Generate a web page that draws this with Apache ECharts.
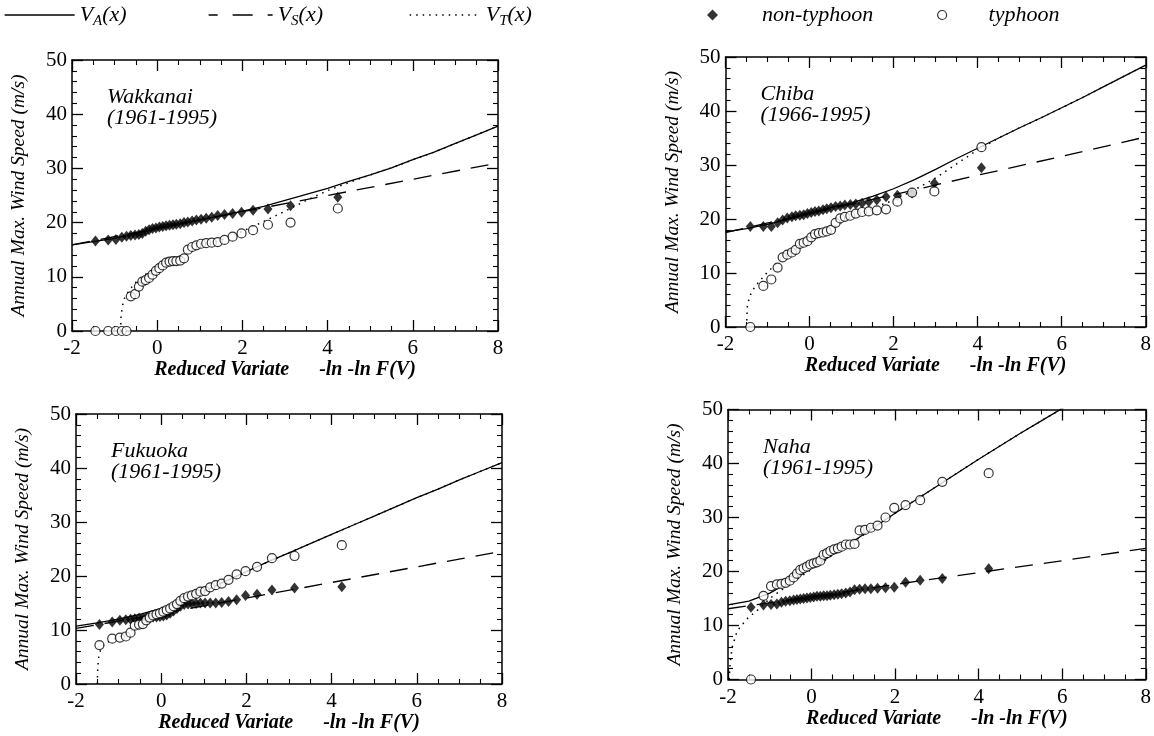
<!DOCTYPE html>
<html><head><meta charset="utf-8">
<script src="https://cdn.jsdelivr.net/npm/echarts@6/dist/echarts.min.js"></script>
<style>html,body{margin:0;padding:0;background:#fff}#c{width:1154px;height:736px}</style>
</head><body><div id="c"></div>
<script>
// Gumbel reduced variate plotting positions
const pos35 = [-1.45,-1.15,-0.97,-0.83,-0.72,-0.62,-0.52,-0.43,-0.35,-0.27,-0.19,-0.11,-0.03,0.05,0.13,0.21,0.29,0.37,0.45,0.54,0.63,0.72,0.82,0.92,1.03,1.15,1.28,1.42,1.58,1.77,1.98,2.25,2.60,3.13,4.24];
const pos30 = [-1.41,-1.10,-0.91,-0.76,-0.64,-0.53,-0.42,-0.33,-0.23,-0.14,-0.05,0.04,0.13,0.22,0.32,0.41,0.51,0.62,0.73,0.84,0.97,1.10,1.25,1.41,1.60,1.82,2.09,2.44,2.97,4.09];

// Wakkanai
const wakNon = [16.6,16.8,16.9,17.3,17.5,17.6,17.7,17.8,18.0,18.4,18.7,18.9,19.0,19.2,19.3,19.4,19.5,19.6,19.7,19.8,20.0,20.1,20.3,20.5,20.6,20.8,21.0,21.3,21.5,21.7,21.9,22.3,22.5,23.1,24.7];
const wakTy = [0,0,0,0,0,6.4,6.8,8.2,9.1,9.4,9.8,10.4,11.1,11.6,12.1,12.6,12.8,12.9,12.9,13.0,13.4,15.0,15.5,15.8,16.1,16.2,16.3,16.4,16.8,17.4,18.0,18.6,19.6,20.0,22.6];
const wakVA = [[-2,15.9],[-1.5,16.5],[-1,17.1],[-0.5,18.0],[0,18.9],[0.5,19.7],[1,20.5],[1.5,21.3],[2,22.1],[2.5,23.0],[3,24.1],[3.5,25.2],[4,26.3],[4.5,27.6],[5,28.8],[5.5,30.1],[6,31.6],[6.5,33.0],[7,34.6],[7.5,36.2],[8,37.8]];
const wakVS = [[-2,15.9],[0,18.9],[2,22.0],[4,25.0],[6,28.0],[8,31.0]];
const wakVT = [[-0.86,0],[-0.85,2.5],[-0.82,4.5],[-0.77,6.0],[-0.65,7.6],[-0.5,9.0],[-0.25,10.6],[0,11.8],[0.5,13.7],[1,15.3],[1.5,16.8],[2,18.4],[2.5,20.2],[3,22.1],[3.5,24.1],[4,25.9],[4.5,27.4],[5,28.8],[5.5,30.1],[6,31.6],[6.5,33.0],[7,34.6],[7.5,36.2],[8,37.8]];

// Chiba
const chiNon = [18.6,18.6,18.6,19.3,19.8,20.2,20.4,20.6,20.7,20.8,21.0,21.2,21.4,21.5,21.7,21.9,22.1,22.3,22.4,22.6,22.7,22.8,22.9,23.2,23.5,24.1,24.4,24.8,26.6,29.5];
const chiTy = [0,7.6,8.8,11.0,12.9,13.4,13.8,14.3,15.4,15.6,15.9,16.6,17.2,17.4,17.5,17.7,18.0,19.3,20.1,20.4,20.6,21.0,21.3,21.4,21.6,21.8,23.2,24.9,25.1,33.3];
const chiVA = [[-2,17.6],[-1.5,18.2],[-1,19.0],[-0.5,20.0],[0,21.1],[0.5,22.1],[1,23.0],[1.5,24.2],[2,25.6],[2.5,27.3],[3,29.2],[3.5,31.2],[4,33.1],[4.5,35.0],[5,36.9],[5.5,38.7],[6,40.6],[6.5,42.5],[7,44.5],[7.5,46.5],[8,48.5]];
const chiVS = [[-2,17.5],[0,21.0],[2,24.5],[4,28.1],[6,31.6],[8,35.2]];
const chiVT = [[-1.5,0],[-1.48,3.8],[-1.43,5.6],[-1.3,7.5],[-1.03,9.9],[-0.8,11.7],[-0.5,13.5],[0,16.0],[0.5,18.3],[1,20.3],[1.5,22.0],[2,23.5],[2.5,25.4],[3,27.6],[3.5,30.2],[4,32.8],[4.5,35.0],[5,36.9],[5.5,38.7],[6,40.6],[6.5,42.5],[7,44.5],[7.5,46.5],[8,48.5]];

// Fukuoka
const fukNon = [11.0,11.5,11.8,11.9,12.0,12.1,12.2,12.2,12.3,12.3,12.4,12.4,12.5,12.6,12.8,13.1,13.5,14.0,14.4,14.7,14.8,14.9,14.9,15.0,15.0,15.0,15.0,15.1,15.3,15.6,16.4,16.6,17.4,17.8,18.0];
const fukTy = [7.2,8.4,8.6,8.8,9.5,10.8,11.0,11.1,11.8,12.3,12.7,12.9,13.1,13.4,13.7,14.0,14.4,14.8,15.4,15.9,16.2,16.4,16.7,17.1,17.2,17.9,18.3,18.6,19.3,20.3,20.9,21.7,23.3,23.7,25.7];
const fukVA = [[-2,10.7],[-1.5,11.3],[-1,12.0],[-0.5,12.9],[0,14.0],[0.5,15.5],[1,17.2],[1.5,19.0],[2,20.8],[2.5,22.6],[3,24.3],[3.5,26.0],[4,27.7],[4.5,29.4],[5,31.1],[5.5,32.8],[6,34.5],[6.5,36.1],[7,37.8],[7.5,39.4],[8,41.0]];
const fukVS = [[-2,10.3],[0,13.0],[2,15.9],[4,18.8],[6,21.7],[8,24.6]];
const fukVT = [[-1.5,0],[-1.49,3],[-1.46,5.5],[-1.38,7.0],[-1.2,8.0],[-1,8.7],[-0.5,10.6],[0,12.7],[0.5,14.9],[1,17.0],[1.5,18.9],[2,20.8],[2.5,22.6],[3,24.3],[3.5,26.0],[4,27.7],[4.5,29.4],[5,31.1],[5.5,32.8],[6,34.5],[6.5,36.1],[7,37.8],[7.5,39.4],[8,41.0]];

// Naha
const nahNon = [13.4,13.8,13.9,14.0,14.3,14.5,14.6,14.7,14.8,14.9,15.0,15.1,15.2,15.3,15.4,15.4,15.5,15.5,15.6,15.7,15.8,15.9,16.0,16.2,16.6,16.7,16.8,16.8,16.9,17.0,17.1,18.0,18.4,18.7,20.5];
const nahTy = [0,15.5,17.3,17.6,17.7,17.9,18.3,18.9,19.6,20.3,20.6,20.9,21.3,21.5,21.7,22.0,23.1,23.4,23.8,24.1,24.3,24.6,25.0,25.0,25.1,27.6,27.7,28.1,28.5,30.0,31.8,32.3,33.2,36.6,38.2];
const nahVA = [[-2,13.8],[-1.5,14.5],[-1,16.0],[-0.5,18.2],[0,20.6],[0.5,23.1],[1,25.6],[1.5,28.2],[2,30.8],[2.5,33.3],[3,35.8],[3.5,38.3],[4,40.8],[4.5,43.2],[5,45.6],[5.5,47.9],[6,50.2],[6.5,52.5],[7,54.8],[7.5,57.1],[8,59.4]];
const nahVS = [[-2,13.1],[0,15.3],[2,17.6],[4,19.8],[6,22.0],[8,24.3]];
const nahVT = [[-1.97,0],[-1.95,3],[-1.9,6],[-1.78,9],[-1.55,11.2],[-1.3,12.8],[-1,15.0],[-0.5,17.8],[0,20.4],[0.5,23.0],[1,25.5],[1.5,28.1],[2,30.8],[2.5,33.3],[3,35.8],[3.5,38.3],[4,40.8],[4.5,43.2],[5,45.6],[5.5,47.9],[6,50.2],[6.5,52.5],[7,54.8],[7.5,57.1],[8,59.4]];

const stations = ['Wakkanai','Chiba','Fukuoka','Naha'];
const periods = ['(1961-1995)','(1966-1995)','(1961-1995)','(1961-1995)'];
const xName = 'Reduced Variate      -ln -ln F(V)';
const yName = 'Annual Max. Wind Speed (m/s)';

const panels = [
  {pos:pos35, non:wakNon, ty:wakTy, va:wakVA, vs:wakVS, vt:wakVT},
  {pos:pos30, non:chiNon, ty:chiTy, va:chiVA, vs:chiVS, vt:chiVT},
  {pos:pos35, non:fukNon, ty:fukTy, va:fukVA, vs:fukVS, vt:fukVT},
  {pos:pos35, non:nahNon, ty:nahTy, va:nahVA, vs:nahVS, vt:nahVT}
];

const FONT = 'Liberation Serif';
const grids = [
  {left:72, top:60, width:426, height:271},
  {left:725.5, top:57, width:425.5, height:270},
  {left:76, top:414, width:426, height:270},
  {left:728, top:409.5, width:424, height:270}
];

const xAxes = [], yAxes = [], series = [], titles = [];
const tickCommon = {show:true, inside:true, length:11, lineStyle:{color:'#000', width:1.3}};
const minorCommon = {show:true, length:5, lineStyle:{color:'#000', width:1.1}};
grids.forEach((g, i) => {
  const base = {type:'value', gridIndex:i, min:-2, max:8, interval:2,
    axisLine:{show:true, onZero:false, lineStyle:{color:'#000', width:1.5}},
    axisTick:tickCommon, minorTick:Object.assign({splitNumber:4}, minorCommon), splitLine:{show:false}};
  xAxes.push(Object.assign({}, base, {position:'bottom',
    axisLabel:{color:'#000', fontFamily:FONT, fontSize:21, margin:7},
    name:xName, nameLocation:'middle', nameGap:29,
    nameTextStyle:{color:'#000', fontFamily:FONT, fontStyle:'italic', fontWeight:'bold', fontSize:20}}));
  xAxes.push(Object.assign({}, base, {position:'top', axisLabel:{show:false}}));
  const ybase = {type:'value', gridIndex:i, min:0, max:50, interval:10,
    axisLine:{show:true, onZero:false, lineStyle:{color:'#000', width:1.5}},
    axisTick:tickCommon, minorTick:Object.assign({splitNumber:5}, minorCommon), splitLine:{show:false}};
  yAxes.push(Object.assign({}, ybase, {position:'left',
    axisLabel:{color:'#000', fontFamily:FONT, fontSize:21, margin:5},
    name:yName, nameLocation:'middle', nameGap:43, nameRotate:90,
    nameTextStyle:{color:'#000', fontFamily:FONT, fontStyle:'italic', fontSize:19.5}}));
  yAxes.push(Object.assign({}, ybase, {position:'right', axisLabel:{show:false}}));

  const p = panels[i];
  const xi = 2*i, yi = 2*i;
  series.push({name:'VA', type:'line', xAxisIndex:xi, yAxisIndex:yi, data:p.va, symbol:'none', clip:true,
    lineStyle:{color:'#000', width:1.3}, z:2});
  series.push({name:'VS', type:'line', xAxisIndex:xi, yAxisIndex:yi, data:p.vs, symbol:'none', clip:true,
    lineStyle:{color:'#000', width:1.3, type:[18,11]}, z:2});
  series.push({name:'VT', type:'line', xAxisIndex:xi, yAxisIndex:yi, data:p.vt, symbol:'none', clip:true,
    lineStyle:{color:'#000', width:1.5, type:[1.5,5]}, z:2});
  series.push({name:'non-typhoon', type:'scatter', xAxisIndex:xi, yAxisIndex:yi,
    data:p.pos.map((x,k)=>[x,p.non[k]]), symbol:'diamond', symbolSize:[9,11],
    itemStyle:{color:'#000'}, z:3});
  series.push({name:'typhoon', type:'scatter', xAxisIndex:xi, yAxisIndex:yi,
    data:p.pos.map((x,k)=>[x,p.ty[k]]), symbol:'circle', symbolSize:9,
    itemStyle:{color:'#fff', borderColor:'#000', borderWidth:1.2}, z:4});

  titles.push({text:stations[i] + '\n' + periods[i], left:g.left + 30, top:g.top + 22,
    textStyle:{color:'#000', fontFamily:FONT, fontStyle:'italic', fontWeight:'normal', fontSize:22, lineHeight:21}});
});

const richLeg = {
  v:{fontFamily:FONT, fontStyle:'italic', fontSize:22, lineHeight:28, color:'#000'},
  s:{fontFamily:FONT, fontStyle:'italic', fontSize:15, lineHeight:14, verticalAlign:'bottom', color:'#000'}
};
const legTxt = {fontFamily:FONT, fontStyle:'italic', fontSize:22, lineHeight:28, color:'#000', rich:richLeg};
const legends = [
  {data:['VA'], left:4, top:1, padding:0, itemWidth:70, itemHeight:20, selectedMode:false,
   itemStyle:{opacity:0}, lineStyle:{width:1.3}, formatter:()=>'{v|V}{s|A}{v|(x)}', textStyle:legTxt},
  {data:['VS'], left:208, top:1, padding:0, itemWidth:64, itemHeight:20, selectedMode:false,
   itemStyle:{opacity:0}, lineStyle:{width:1.3, type:[20,15], dashOffset:11}, formatter:()=>'{v|V}{s|S}{v|(x)}', textStyle:legTxt},
  {data:['VT'], left:407, top:1, padding:0, itemWidth:73, itemHeight:20, selectedMode:false,
   itemStyle:{opacity:0}, lineStyle:{width:1.4, type:[1.5,5]}, formatter:()=>'{v|V}{s|T}{v|(x)}', textStyle:legTxt},
  {data:['non-typhoon'], left:707, top:1, padding:0, itemWidth:11, itemHeight:11, selectedMode:false, icon:'diamond',
   itemStyle:{color:'#000'}, textStyle:Object.assign({}, legTxt, {padding:[0,0,0,39]})},
  {data:['typhoon'], left:937, top:1, padding:0, itemWidth:9, itemHeight:9, selectedMode:false, icon:'circle',
   itemStyle:{color:'#fff', borderColor:'#000', borderWidth:1.2}, textStyle:Object.assign({}, legTxt, {padding:[0,0,0,37]})}
];

const chart = echarts.init(document.getElementById('c'), null, {renderer:'canvas'});
chart.setOption({
  backgroundColor:'#fff',
  animation:false,
  title:titles,
  legend:legends,
  grid:grids,
  xAxis:xAxes,
  yAxis:yAxes,
  series:series
});
</script></body></html>
